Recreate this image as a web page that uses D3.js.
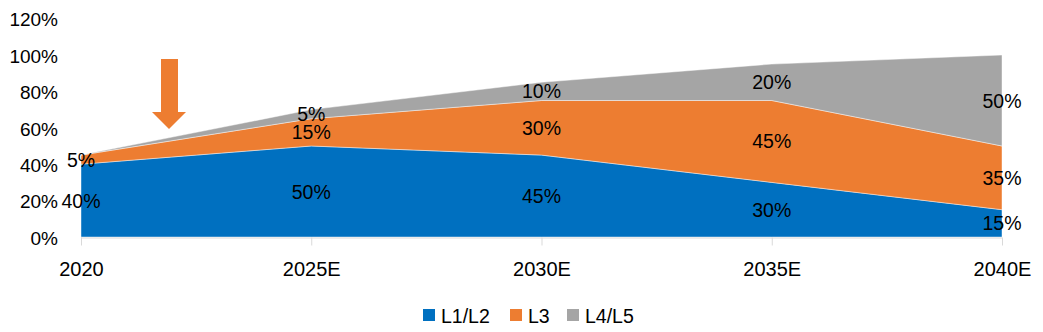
<!DOCTYPE html>
<html>
<head>
<meta charset="utf-8">
<script src="https://cdn.jsdelivr.net/npm/d3@7"></script>
<style>
  html, body { margin: 0; padding: 0; background: #fff; }
  svg { display: block; font-family: "Liberation Sans", Arial, sans-serif; }
</style>
</head>
<body>
<svg id="chart" width="1043" height="332"></svg>
<script>
const categories = ["2020", "2025E", "2030E", "2035E", "2040E"];
const seriesNames = ["L1/L2", "L3", "L4/L5"];
const l1l2 = [40, 50, 45, 30, 15];
const l3 = [5, 15, 30, 45, 35];
const l4l5 = [0, 5, 10, 20, 50];
const yTicks = [0, 20, 40, 60, 80, 100, 120];
const colors = ["#0070C0", "#ED7D31", "#A5A5A5"];

const rows = categories.map((c, i) => ({ cat: c, "L1/L2": l1l2[i], "L3": l3[i], "L4/L5": l4l5[i] }));
const stack = d3.stack().keys(seriesNames)(rows);

const svg = d3.select("#chart");
const x = d3.scalePoint().domain(categories).range([81, 1002]);
const y = d3.scaleLinear().domain([0, 120]).range([237, 18.6]);

const area = d3.area()
  .x(d => x(d.data.cat))
  .y0(d => y(d[0]))
  .y1(d => y(d[1]));

svg.append("g").selectAll("path").data(stack).join("path")
  .attr("d", area)
  .attr("fill", (d, i) => colors[i])
  .attr("stroke", "rgba(255,255,255,0.55)")
  .attr("stroke-width", 0.8);

// x axis
const xAxis = svg.append("g").attr("transform", "translate(0,237.5)")
  .call(d3.axisBottom(x).tickSize(8).tickPadding(16));
xAxis.select(".domain").attr("stroke", "#D9D9D9").attr("d", "M81,0.5H1002");
xAxis.selectAll(".tick line").attr("stroke", "#D9D9D9");
xAxis.selectAll(".tick text").attr("font-size", 20).attr("fill", "#000")
  .attr("font-family", "Liberation Sans, Arial, sans-serif");

// y axis labels
const yAxis = svg.append("g").attr("transform", "translate(58,0)")
  .call(d3.axisLeft(y).tickValues(yTicks).tickFormat(d => d + "%").tickSize(0).tickPadding(0));
yAxis.select(".domain").remove();
yAxis.selectAll(".tick text").attr("font-size", 19).attr("fill", "#000")
  .attr("font-family", "Liberation Sans, Arial, sans-serif").attr("dy", "0.38em");

// data labels
const labels = [];
stack.forEach((s, si) => {
  s.forEach(d => {
    const v = d[1] - d[0];
    if (v > 0) labels.push({ cat: d.data.cat, v, mid: (d[0] + d[1]) / 2 });
  });
});
svg.append("g").selectAll("text").data(labels).join("text")
  .attr("x", d => x(d.cat))
  .attr("y", d => y(d.mid))
  .attr("dy", "0.36em")
  .attr("text-anchor", "middle")
  .attr("font-size", 19.5)
  .attr("fill", "#000")
  .text(d => d.v + "%");

// arrow annotation
const arrow = d3.path();
arrow.moveTo(161, 59); arrow.lineTo(178, 59); arrow.lineTo(178, 112);
arrow.lineTo(186, 112); arrow.lineTo(169, 129); arrow.lineTo(152, 112);
arrow.lineTo(161, 112); arrow.closePath();
svg.append("path").attr("d", arrow.toString()).attr("fill", "#ED7D31");

// legend
const legendPos = [423, 510, 567];
const lg = svg.append("g").selectAll("g").data(seriesNames).join("g")
  .attr("transform", (d, i) => `translate(${legendPos[i]},309)`);
lg.append("rect").attr("width", 12).attr("height", 12).attr("fill", (d, i) => colors[i]);
lg.append("text").attr("x", 18).attr("y", 13.5).attr("font-size", 19.5).attr("fill", "#000").text(d => d);
</script>
</body>
</html>
